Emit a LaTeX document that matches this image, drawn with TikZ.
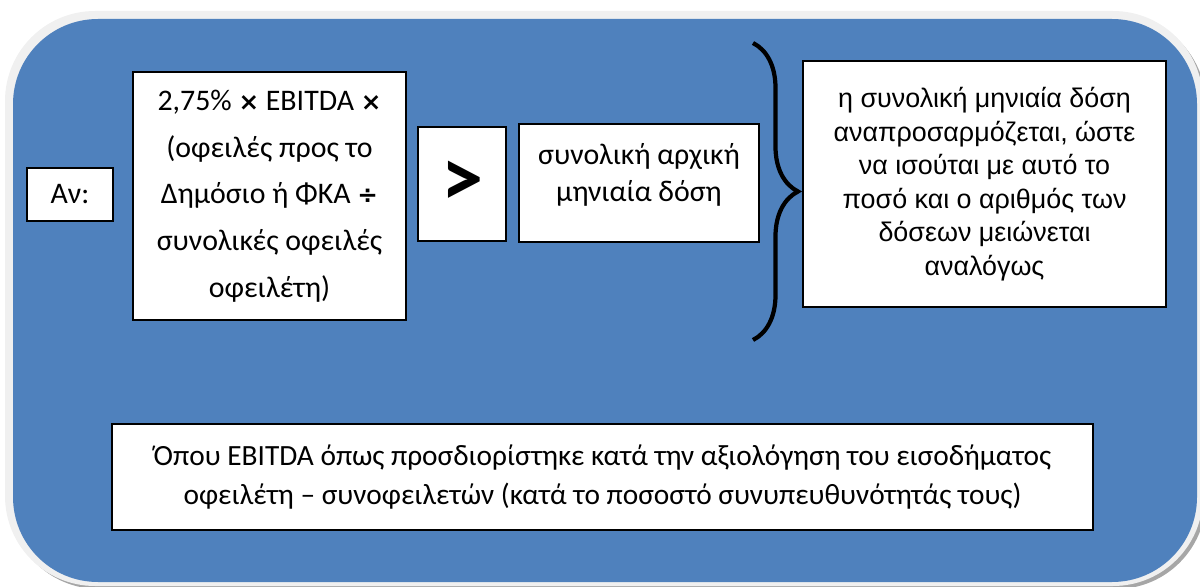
\documentclass[tikz,border=0pt]{standalone}
\usepackage{fontspec}
\setmainfont{Carlito}
\newfontfamily\arialfont{Liberation Sans}
\newfontfamily\opsfont{DejaVu Sans}
\usepackage{xcolor}
\usetikzlibrary{decorations.pathreplacing}
\definecolor{panelblue}{HTML}{4F81BD}
\definecolor{panelrim}{HTML}{F0F0F0}
\definecolor{panelshade}{HTML}{A6A6A6}
\newcommand{\optimes}{{\opsfont\bfseries\fontsize{14}{14}\selectfont ×}}
\newcommand{\opdiv}{{\opsfont\bfseries\fontsize{14}{14}\selectfont ÷}}

\begin{document}
\begin{tikzpicture}[x=0.02cm, y=-0.02cm,
    box/.style={draw=black, line width=1.2pt, fill=white, align=center, inner sep=0pt},
    calibri/.style={font=\fontsize{17}{26.6}\selectfont}]
  \useasboundingbox (0,0) rectangle (1200,587);
  \fill[panelshade, rounded corners=1.8cm] (9,15) rectangle (1206,589);
  \fill[panelrim, rounded corners=1.8cm] (5,11) rectangle (1203,586);
  \fill[panelblue, rounded corners=1.7cm] (13,19) rectangle (1197,582);

  \node (av) [box, calibri, minimum width=86*0.02cm, minimum height=53*0.02cm] at (70,194.5) {Αν:};
  \node (expr) [box, calibri, minimum width=273*0.02cm, minimum height=248*0.02cm] at (269.5,196)
    {2,75\% \optimes{} EBITDA \optimes\\ (οφειλές προς το\\ Δημόσιο ή ΦΚΑ \opdiv\\ συνολικές οφειλές\\ οφειλέτη)};
  \node (gt) [box, minimum width=88*0.02cm, minimum height=114*0.02cm, font=\fontsize{48}{48}\selectfont\bfseries] at (462,184) {>};
  \node (inst) [box, minimum width=240*0.02cm, minimum height=118*0.02cm,
    label={[yshift=0.16cm, align=center, font=\fontsize{17}{21}\selectfont]center:{συνολική αρχική\\ μηνιαία δόση}}] at (639,183) {};
  \node (res) [box, font=\arialfont\fontsize{15.3}{19.1}\selectfont, minimum width=363*0.02cm, minimum height=246*0.02cm] at (984.5,184)
    {η συνολική μηνιαία δόση\\ αναπροσαρμόζεται, ώστε\\ να ισούται με αυτό το\\ ποσό και ο αριθμός των\\ δόσεων μειώνεται\\ αναλόγως};
  \node (note) [box, font=\fontsize{16.7}{22.7}\selectfont, minimum width=981*0.02cm, minimum height=106*0.02cm] at (602.5,477)
    {Όπου EBITDA όπως προσδιορίστηκε κατά την αξιολόγηση του εισοδήματος\\ οφειλέτη – συνοφειλετών (κατά το ποσοστό συνυπευθυνότητάς τους)};

  \draw[line width=2.4pt, decorate, decoration={brace, amplitude=0.9cm}]
    (753,43) -- (753,340);
\end{tikzpicture}
\end{document}
